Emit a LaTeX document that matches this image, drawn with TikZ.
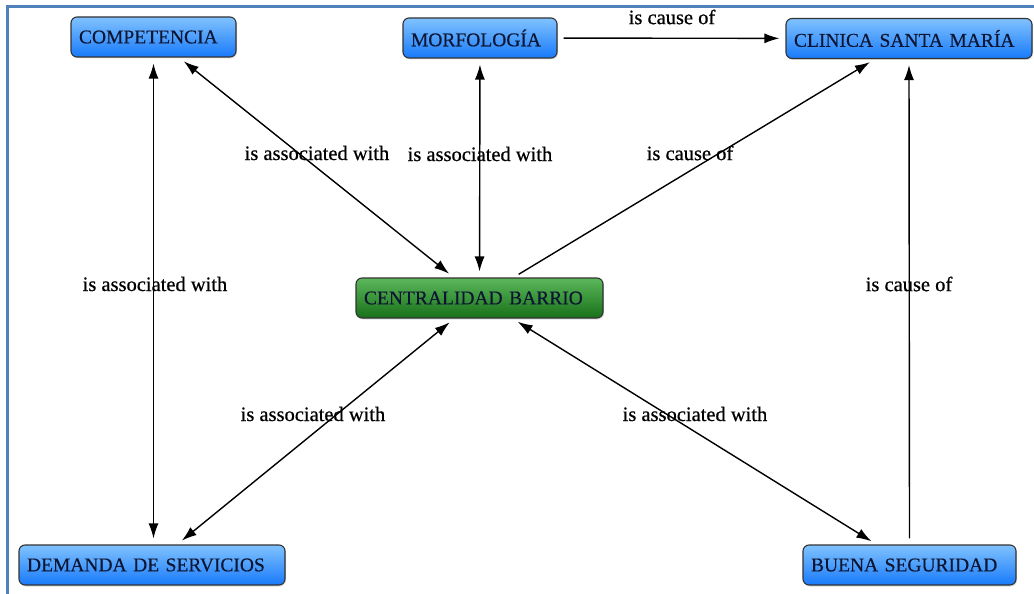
\documentclass[tikz,border=0pt]{standalone}
\usepackage{fontspec}
\setmainfont{Liberation Serif}
\newfontfamily\conceptfont[FakeBold=0.35]{Liberation Serif}
\newfontfamily\phrasefont[FakeBold=0.6]{Liberation Serif}
\usetikzlibrary{arrows.meta,shadows}
\definecolor{framecol}{RGB}{79,129,189}
\definecolor{bluetop}{RGB}{128,194,255}
\definecolor{bluebot}{RGB}{24,122,250}
\definecolor{greentop}{RGB}{92,184,92}
\definecolor{greenbot}{RGB}{24,112,24}
\definecolor{conceptink}{RGB}{12,22,50}
\tikzset{
  concept/.style={draw=black!80, line width=1.1pt, rounded corners=6pt,
    minimum height=40pt, inner xsep=8pt, inner ysep=0pt, align=left,
    font=\conceptfont\fontsize{19.5}{22}\selectfont, text=conceptink,
    drop shadow={shadow xshift=1pt, shadow yshift=-1.5pt, opacity=0.25}},
  bluebox/.style={concept, top color=bluetop, bottom color=bluebot},
  greenbox/.style={concept, top color=greentop, bottom color=greenbot},
  link/.style={line width=1.4pt, black, shorten <=6pt, shorten >=6pt},
  both/.style={link, {Latex[length=15pt,width=10pt]}-{Latex[length=15pt,width=10pt]}},
  oneway/.style={link, -{Latex[length=15pt,width=10pt]}},
  lbl/.style={font=\phrasefont\fontsize{20.5}{22}\selectfont, text=black, inner sep=1pt},
}
\begin{document}
\begin{tikzpicture}[x=1pt,y=-1pt]
  \useasboundingbox (0,0) rectangle (1034,594);
  % page frame
  \draw[framecol, line width=3pt] (7,594) -- (7,7) -- (1034,7);

  % concepts
  \node[bluebox, text width=149pt] (comp) at (153.5,37) {COMPETENCIA};
  \node[bluebox, text width=138pt] (morf) at (480,38) {MORFOLOG\'IA};
  \node[bluebox, text width=230pt] (clin) at (909,38.5) {CLINICA SANTA MAR\'IA};
  \node[greenbox, text width=231pt] (cent) at (479.5,298) {CENTRALIDAD BARRIO};
  \node[bluebox, text width=250pt] (dem) at (152,565) {DEMANDA DE SERVICIOS};
  \node[bluebox, text width=197pt] (buena) at (909.5,565) {BUENA SEGURIDAD};

  % connectors
  \draw[both] (comp.south) -- (comp.south |- dem.north);
  \draw[both] (comp) -- (cent);
  \draw[both] (morf) -- (cent);
  \draw[oneway] (cent) -- (clin);
  \draw[oneway] (morf) -- (clin);
  \draw[oneway] (buena.north) -- (clin.south);
  \draw[both] (dem) -- (cent);
  \draw[both] (buena) -- (cent);

  % link phrases
  \node[lbl] (l1) at (155,284) {is associated with};
  \node[lbl] (l2) at (317,153) {is associated with};
  \node[lbl] (l3) at (480,154) {is associated with};
  \node[lbl] (l4) at (690,153) {is cause of};
  \node[lbl] (l5) at (672,17) {is cause of};
  \node[lbl] (l6) at (909,284) {is cause of};
  \node[lbl] (l7) at (313,414) {is associated with};
  \node[lbl] (l8) at (695,414) {is associated with};
\end{tikzpicture}
\end{document}
